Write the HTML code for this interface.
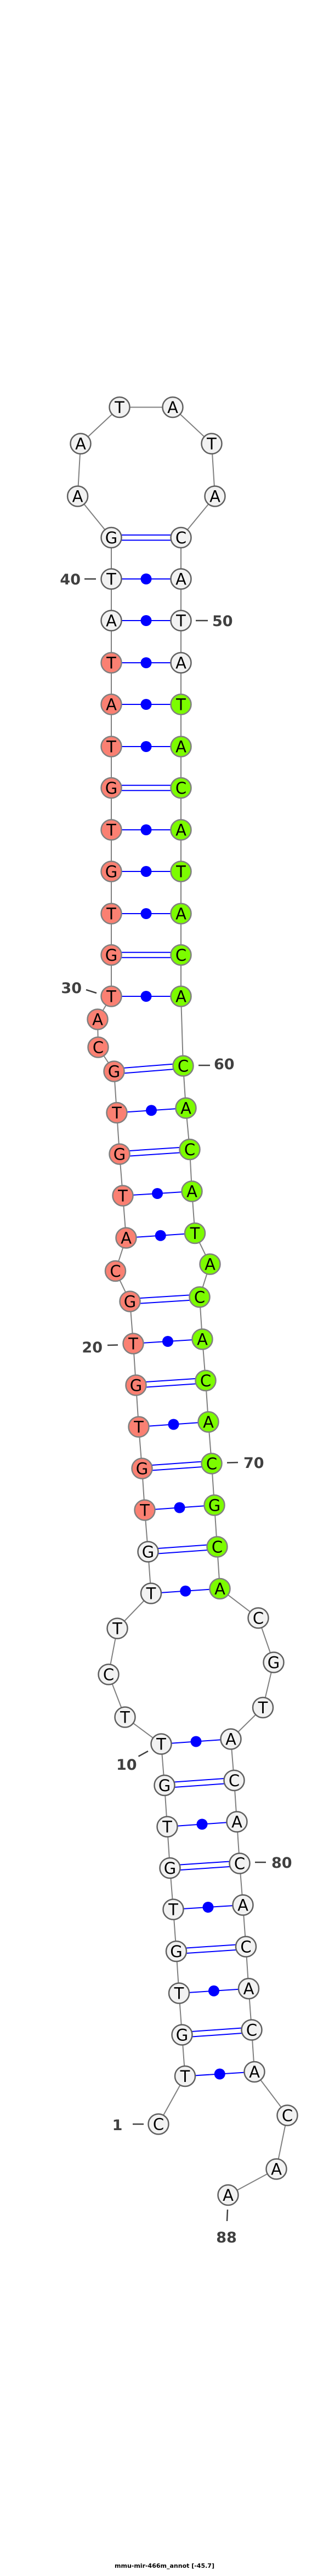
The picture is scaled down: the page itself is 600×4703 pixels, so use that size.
<!DOCTYPE html>
<html><head><meta charset="utf-8"><style>html,body{margin:0;padding:0;background:#fff}svg{display:block}</style></head>
<body>
<svg width="600" height="4703" viewBox="0 0 600 4703" xmlns="http://www.w3.org/2000/svg">
<rect width="600" height="4703" fill="#fff"/>
<polyline fill="none" stroke="#808080" stroke-width="2" points="289,3878 337.5,3790.5 332,3715 326.5,3639 321.5,3562.5 316,3486 310,3410.5 305,3335 300,3259.5 294,3184 228,3135 198,3057 214,2973 275.5,2909 270,2833 264,2757 259,2681 253,2605 248,2529 243,2453 237,2376 210.5,2320.5 230,2260 224,2183 218,2107 213,2031.5 208,1956 179,1912 178,1861 203,1819 203,1743.5 203,1668 203,1591 203,1515 203,1438.5 203,1363 203,1286 203,1210 203,1133 203,1057 203,981.5 141.6,906 147,810 218,743.5 315,743.5 386,810 392,906 330,981.5 330,1057 330,1133 330,1210 330,1286 330,1363 330,1438.5 330,1515 330,1591 330,1668 330,1743.5 330,1819 334,1946 339,2023 346,2098.5 350,2175 355.5,2251.5 383,2308 364,2368 369,2445 375,2520.5 380,2596 386,2672 391,2748 396,2824 401,2900.5 471,2954 499,3035 479.5,3117.5 421,3175 427,3250.5 432,3326 437,3402 443,3478 448.5,3554 453.5,3630.6 459,3706 464,3782.5 524,3862 504,3960 416,4007.5"/>
<g stroke="#0000ff" stroke-width="2" fill="none">
<!-- dot pairs -->
<line x1="337.5" y1="3790.5" x2="464" y2="3782.5"/>
<line x1="326.5" y1="3639" x2="453.5" y2="3630.6"/>
<line x1="316" y1="3486" x2="443" y2="3478"/>
<line x1="305" y1="3335" x2="432" y2="3326"/>
<line x1="294" y1="3184" x2="421" y2="3175"/>
<line x1="275.5" y1="2909" x2="401" y2="2900.5"/>
<line x1="264" y1="2757" x2="391" y2="2748"/>
<line x1="253" y1="2605" x2="380" y2="2596"/>
<line x1="243" y1="2453" x2="369" y2="2445"/>
<line x1="230" y1="2260" x2="355.5" y2="2251.5"/>
<line x1="224" y1="2183" x2="350" y2="2175"/>
<line x1="213" y1="2031.5" x2="339" y2="2023"/>
<line x1="203" y1="1819" x2="330" y2="1819"/>
<line x1="203" y1="1668" x2="330" y2="1668"/>
<line x1="203" y1="1591" x2="330" y2="1591"/>
<line x1="203" y1="1515" x2="330" y2="1515"/>
<line x1="203" y1="1363" x2="330" y2="1363"/>
<line x1="203" y1="1286" x2="330" y2="1286"/>
<line x1="203" y1="1210" x2="330" y2="1210"/>
<line x1="203" y1="1133" x2="330" y2="1133"/>
<line x1="203" y1="1057" x2="330" y2="1057"/>
<!-- GC double -->
<line x1="332" y1="3710.2" x2="459" y2="3701.2"/><line x1="332" y1="3719.8" x2="459" y2="3710.8"/>
<line x1="321.5" y1="3557.7" x2="448.5" y2="3549.2"/><line x1="321.5" y1="3567.3" x2="448.5" y2="3558.8"/>
<line x1="310" y1="3405.7" x2="437" y2="3397.2"/><line x1="310" y1="3415.3" x2="437" y2="3406.8"/>
<line x1="300" y1="3254.7" x2="427" y2="3245.7"/><line x1="300" y1="3264.3" x2="427" y2="3255.3"/>
<line x1="270" y1="2828.2" x2="396" y2="2819.2"/><line x1="270" y1="2837.8" x2="396" y2="2828.8"/>
<line x1="259" y1="2676.2" x2="386" y2="2667.2"/><line x1="259" y1="2685.8" x2="386" y2="2676.8"/>
<line x1="248" y1="2524.2" x2="375" y2="2515.7"/><line x1="248" y1="2533.8" x2="375" y2="2525.3"/>
<line x1="237" y1="2371.2" x2="364" y2="2363.2"/><line x1="237" y1="2380.8" x2="364" y2="2372.8"/>
<line x1="218" y1="2102.2" x2="346" y2="2093.7"/><line x1="218" y1="2111.8" x2="346" y2="2103.3"/>
<line x1="208" y1="1951.2" x2="334" y2="1941.2"/><line x1="208" y1="1960.8" x2="334" y2="1950.8"/>
<line x1="203" y1="1738.7" x2="330" y2="1738.7"/><line x1="203" y1="1748.3" x2="330" y2="1748.3"/>
<line x1="203" y1="1433.7" x2="330" y2="1433.7"/><line x1="203" y1="1443.3" x2="330" y2="1443.3"/>
<line x1="203" y1="976.7" x2="330" y2="976.7"/><line x1="203" y1="986.3" x2="330" y2="986.3"/>
</g>
<g fill="#0000ff">
<circle cx="400.75" cy="3786.5" r="10"/><circle cx="390" cy="3634.8" r="10"/><circle cx="379.5" cy="3482" r="10"/><circle cx="368.5" cy="3330.5" r="10"/><circle cx="357.5" cy="3179.5" r="10"/>
<circle cx="338.25" cy="2904.75" r="10"/><circle cx="327.5" cy="2752.5" r="10"/><circle cx="316.5" cy="2600.5" r="10"/><circle cx="306" cy="2449" r="10"/>
<circle cx="292.75" cy="2255.75" r="10"/><circle cx="287" cy="2179" r="10"/><circle cx="276" cy="2027.25" r="10"/>
<circle cx="266.5" cy="1819" r="10"/><circle cx="266.5" cy="1668" r="10"/><circle cx="266.5" cy="1591" r="10"/><circle cx="266.5" cy="1515" r="10"/><circle cx="266.5" cy="1363" r="10"/><circle cx="266.5" cy="1286" r="10"/><circle cx="266.5" cy="1210" r="10"/><circle cx="266.5" cy="1133" r="10"/><circle cx="266.5" cy="1057" r="10"/>
</g>
<g stroke-width="2.5">
<g fill="#f2f2f2" stroke="#606060">
<circle cx="289" cy="3878" r="18.5"/><circle cx="337.5" cy="3790.5" r="18.5"/><circle cx="332" cy="3715" r="18.5"/><circle cx="326.5" cy="3639" r="18.5"/><circle cx="321.5" cy="3562.5" r="18.5"/><circle cx="316" cy="3486" r="18.5"/><circle cx="310" cy="3410.5" r="18.5"/><circle cx="305" cy="3335" r="18.5"/><circle cx="300" cy="3259.5" r="18.5"/><circle cx="294" cy="3184" r="18.5"/><circle cx="228" cy="3135" r="18.5"/><circle cx="198" cy="3057" r="18.5"/><circle cx="214" cy="2973" r="18.5"/><circle cx="275.5" cy="2909" r="18.5"/><circle cx="270" cy="2833" r="18.5"/>
<circle cx="203" cy="1133" r="18.5"/><circle cx="203" cy="1057" r="18.5"/><circle cx="203" cy="981.5" r="18.5"/><circle cx="141.6" cy="906" r="18.5"/><circle cx="147" cy="810" r="18.5"/><circle cx="218" cy="743.5" r="18.5"/><circle cx="315" cy="743.5" r="18.5"/><circle cx="386" cy="810" r="18.5"/><circle cx="392" cy="906" r="18.5"/><circle cx="330" cy="981.5" r="18.5"/><circle cx="330" cy="1057" r="18.5"/><circle cx="330" cy="1133" r="18.5"/><circle cx="330" cy="1210" r="18.5"/>
<circle cx="471" cy="2954" r="18.5"/><circle cx="499" cy="3035" r="18.5"/><circle cx="479.5" cy="3117.5" r="18.5"/><circle cx="421" cy="3175" r="18.5"/><circle cx="427" cy="3250.5" r="18.5"/><circle cx="432" cy="3326" r="18.5"/><circle cx="437" cy="3402" r="18.5"/><circle cx="443" cy="3478" r="18.5"/><circle cx="448.5" cy="3554" r="18.5"/><circle cx="453.5" cy="3630.6" r="18.5"/><circle cx="459" cy="3706" r="18.5"/><circle cx="464" cy="3782.5" r="18.5"/><circle cx="524" cy="3862" r="18.5"/><circle cx="504" cy="3960" r="18.5"/><circle cx="416" cy="4007.5" r="18.5"/>
</g>
<g fill="#fa8072" stroke="#808080">
<circle cx="264" cy="2757" r="18.5"/><circle cx="259" cy="2681" r="18.5"/><circle cx="253" cy="2605" r="18.5"/><circle cx="248" cy="2529" r="18.5"/><circle cx="243" cy="2453" r="18.5"/><circle cx="237" cy="2376" r="18.5"/><circle cx="210.5" cy="2320.5" r="18.5"/><circle cx="230" cy="2260" r="18.5"/><circle cx="224" cy="2183" r="18.5"/><circle cx="218" cy="2107" r="18.5"/><circle cx="213" cy="2031.5" r="18.5"/><circle cx="208" cy="1956" r="18.5"/><circle cx="179" cy="1912" r="18.5"/><circle cx="178" cy="1861" r="18.5"/><circle cx="203" cy="1819" r="18.5"/><circle cx="203" cy="1743.5" r="18.5"/><circle cx="203" cy="1668" r="18.5"/><circle cx="203" cy="1591" r="18.5"/><circle cx="203" cy="1515" r="18.5"/><circle cx="203" cy="1438.5" r="18.5"/><circle cx="203" cy="1363" r="18.5"/><circle cx="203" cy="1286" r="18.5"/><circle cx="203" cy="1210" r="18.5"/>
</g>
<g fill="#7cfc00" stroke="#808080">
<circle cx="330" cy="1286" r="18.5"/><circle cx="330" cy="1363" r="18.5"/><circle cx="330" cy="1438.5" r="18.5"/><circle cx="330" cy="1515" r="18.5"/><circle cx="330" cy="1591" r="18.5"/><circle cx="330" cy="1668" r="18.5"/><circle cx="330" cy="1743.5" r="18.5"/><circle cx="330" cy="1819" r="18.5"/><circle cx="334" cy="1946" r="18.5"/><circle cx="339" cy="2023" r="18.5"/><circle cx="346" cy="2098.5" r="18.5"/><circle cx="350" cy="2175" r="18.5"/><circle cx="355.5" cy="2251.5" r="18.5"/><circle cx="383" cy="2308" r="18.5"/><circle cx="364" cy="2368" r="18.5"/><circle cx="369" cy="2445" r="18.5"/><circle cx="375" cy="2520.5" r="18.5"/><circle cx="380" cy="2596" r="18.5"/><circle cx="386" cy="2672" r="18.5"/><circle cx="391" cy="2748" r="18.5"/><circle cx="396" cy="2824" r="18.5"/><circle cx="401" cy="2900.5" r="18.5"/>
</g>
</g>
<g font-family="'DejaVu Sans', 'Liberation Sans', sans-serif" font-size="29" text-anchor="middle" fill="#000">
<text x="289" y="3888.5">C</text><text x="337.5" y="3801">T</text><text x="332" y="3725.5">G</text><text x="326.5" y="3649.5">T</text><text x="321.5" y="3573">G</text><text x="316" y="3496.5">T</text><text x="310" y="3421">G</text><text x="305" y="3345.5">T</text><text x="300" y="3270">G</text><text x="294" y="3194.5">T</text><text x="228" y="3145.5">T</text><text x="198" y="3067.5">C</text><text x="214" y="2983.5">T</text><text x="275.5" y="2919.5">T</text><text x="270" y="2843.5">G</text>
<text x="264" y="2767.5">T</text><text x="259" y="2691.5">G</text><text x="253" y="2615.5">T</text><text x="248" y="2539.5">G</text><text x="243" y="2463.5">T</text><text x="237" y="2386.5">G</text><text x="210.5" y="2331">C</text><text x="230" y="2270.5">A</text><text x="224" y="2193.5">T</text><text x="218" y="2117.5">G</text><text x="213" y="2042">T</text><text x="208" y="1966.5">G</text><text x="179" y="1922.5">C</text><text x="178" y="1871.5">A</text><text x="203" y="1829.5">T</text><text x="203" y="1754">G</text><text x="203" y="1678.5">T</text><text x="203" y="1601.5">G</text><text x="203" y="1525.5">T</text><text x="203" y="1449">G</text><text x="203" y="1373.5">T</text><text x="203" y="1296.5">A</text><text x="203" y="1220.5">T</text>
<text x="203" y="1143.5">A</text><text x="203" y="1067.5">T</text><text x="203" y="992">G</text><text x="141.6" y="916.5">A</text><text x="147" y="820.5">A</text><text x="218" y="754">T</text><text x="315" y="754">A</text><text x="386" y="820.5">T</text><text x="392" y="916.5">A</text><text x="330" y="992">C</text><text x="330" y="1067.5">A</text><text x="330" y="1143.5">T</text><text x="330" y="1220.5">A</text>
<text x="330" y="1296.5">T</text><text x="330" y="1373.5">A</text><text x="330" y="1449">C</text><text x="330" y="1525.5">A</text><text x="330" y="1601.5">T</text><text x="330" y="1678.5">A</text><text x="330" y="1754">C</text><text x="330" y="1829.5">A</text><text x="334" y="1956.5">C</text><text x="339" y="2033.5">A</text><text x="346" y="2109">C</text><text x="350" y="2185.5">A</text><text x="355.5" y="2262">T</text><text x="383" y="2318.5">A</text><text x="364" y="2378.5">C</text><text x="369" y="2455.5">A</text><text x="375" y="2531">C</text><text x="380" y="2606.5">A</text><text x="386" y="2682.5">C</text><text x="391" y="2758.5">G</text><text x="396" y="2834.5">C</text><text x="401" y="2911">A</text>
<text x="471" y="2964.5">C</text><text x="499" y="3045.5">G</text><text x="479.5" y="3128">T</text><text x="421" y="3185.5">A</text><text x="427" y="3261">C</text><text x="432" y="3336.5">A</text><text x="437" y="3412.5">C</text><text x="443" y="3488.5">A</text><text x="448.5" y="3564.5">C</text><text x="453.5" y="3641">A</text><text x="459" y="3716.5">C</text><text x="464" y="3793">A</text><text x="524" y="3872.5">C</text><text x="504" y="3970.5">A</text><text x="416" y="4018">A</text>
</g>
<g stroke="#404040" stroke-width="2.5">
<line x1="154" y1="1057" x2="175" y2="1057"/>
<line x1="357" y1="1133" x2="379" y2="1133"/>
<line x1="157" y1="1807" x2="176" y2="1813"/>
<line x1="362" y1="1945" x2="383" y2="1945"/>
<line x1="196" y1="2456" x2="215" y2="2455.5"/>
<line x1="414" y1="2670.5" x2="434" y2="2670"/>
<line x1="252.5" y1="3206.6" x2="270" y2="3197"/>
<line x1="465" y1="3400" x2="485" y2="3400"/>
<line x1="242" y1="3878" x2="262" y2="3878"/>
<line x1="415" y1="4034" x2="414" y2="4055"/>
</g>
<g font-family="'DejaVu Sans', 'Liberation Sans', sans-serif" font-size="27" font-weight="bold" fill="#404040">
<text x="147" y="1067" text-anchor="end">40</text>
<text x="387" y="1143">50</text>
<text x="149" y="1813" text-anchor="end">30</text>
<text x="390" y="1952">60</text>
<text x="187" y="2469" text-anchor="end">20</text>
<text x="444" y="2680">70</text>
<text x="212" y="3231">10</text>
<text x="495" y="3410">80</text>
<text x="214" y="3889" text-anchor="middle">1</text>
<text x="413" y="4094" text-anchor="middle">88</text>
</g>
<text x="300" y="4688" text-anchor="middle" font-family="'DejaVu Sans', 'Liberation Sans', sans-serif" font-size="11" font-weight="bold" fill="#000">mmu-mir-466m_annot [-45.7]</text>
</svg>
</body></html>
